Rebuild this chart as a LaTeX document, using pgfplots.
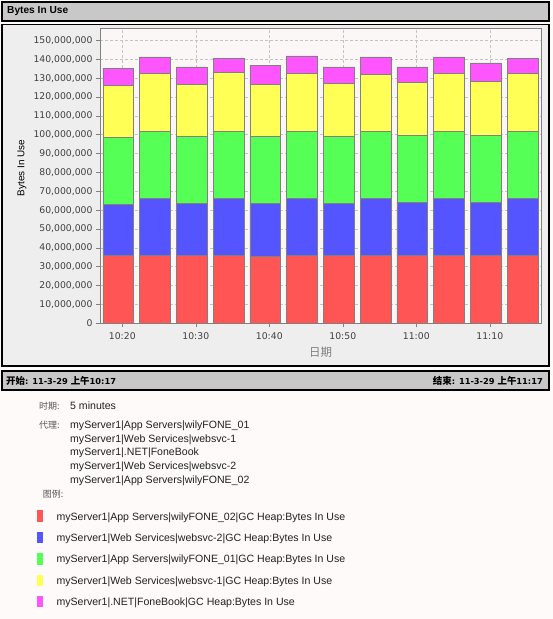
\documentclass[border=0pt]{standalone}
\usepackage{fontspec}
\setmainfont{DejaVu Sans}
\newfontfamily\cjk{Noto Sans CJK SC}
\newfontfamily\lib{Liberation Sans}
\usepackage{pgfplots}
\usepackage{pgfplotstable}
\pgfplotsset{compat=1.18}
\definecolor{pagebg}{HTML}{FEFAFA}
\definecolor{plotbg}{HTML}{FCF7F7}
\definecolor{panelbg}{HTML}{EEEEEE}
\definecolor{barbg}{HTML}{C8C8C8}
\definecolor{sred}{HTML}{FF5555}
\definecolor{sblue}{HTML}{5555FF}
\definecolor{sgreen}{HTML}{55FF55}
\definecolor{syellow}{HTML}{FFFF55}
\definecolor{smag}{HTML}{FF55FF}
\definecolor{edge}{HTML}{808080}
\definecolor{gridc}{HTML}{C4C4C4}
\definecolor{tickc}{HTML}{404040}
\definecolor{txt}{HTML}{202020}
\definecolor{lbl}{HTML}{555555}

\pgfplotstableread{
x  red      blue     green    yellow   mag
0  35900000 27200000 35600000 27600000 9000000
1  35900000 30400000 35700000 30600000 8700000
2  35900000 27500000 35800000 27600000 9200000
3  35900000 30400000 35700000 31200000 7400000
4  35300000 28100000 35800000 27600000 10200000
5  35900000 30400000 35700000 30600000 9200000
6  35900000 27900000 35400000 28100000 8700000
7  35900000 30400000 35700000 30100000 9200000
8  35900000 28300000 35500000 28200000 8100000
9  35900000 30400000 35700000 30600000 8700000
10 35900000 28300000 35500000 28700000 9700000
11 35900000 30400000 35700000 30600000 8000000
}\datatable

\pgfplotsset{sq/.style={legend image code/.code={\path[##1,draw=none] (0bp,-4.45bp) rectangle (6.3bp,6.95bp);}}}

\begin{document}
\begin{tikzpicture}
\fill[pagebg] (0,0) rectangle (553bp,619bp);
% title bar
\draw[line width=1.2bp, fill=barbg] (2bp,598bp) rectangle (549bp,617bp);
\node[anchor=west, inner sep=0pt, text=black, font=\lib\bfseries\fontsize{10.2}{11}\selectfont] at (7bp,607.5bp) {Bytes In Use};
% chart panel
\draw[line width=1.5bp, fill=panelbg] (2bp,253bp) rectangle (549bp,594.5bp);
% bottom bar
\draw[line width=1.2bp, fill=barbg] (2bp,229bp) rectangle (549bp,248bp);
\node[anchor=west, inner sep=0pt, font=\bfseries\fontsize{8.3}{10}\selectfont] at (6bp,238.5bp) {{\cjk\fontsize{9.5}{10}\selectfont 开始}: 11-3-29 {\cjk\fontsize{9.5}{10}\selectfont 上午}10:17};
\node[anchor=east, inner sep=0pt, font=\bfseries\fontsize{8.3}{10}\selectfont] at (543bp,238.5bp) {{\cjk\fontsize{9.5}{10}\selectfont 结束}: 11-3-29 {\cjk\fontsize{9.5}{10}\selectfont 上午}11:17};
% info text
\begin{scope}[every node/.style={anchor=base west, inner sep=0pt, text=txt, font=\lib\fontsize{10.6}{12}\selectfont}]
\node[text=lbl, font=\cjk\fontsize{9}{10}\selectfont] at (39bp,209.4bp) {时期:};
\node at (70bp,209.2bp) {5 minutes};
\node[text=lbl, font=\cjk\fontsize{9}{10}\selectfont] at (39bp,190.4bp) {代理:};
\node at (70bp,190.2bp) {myServer1|App Servers|wilyFONE\_01};
\node at (70bp,176.9bp) {myServer1|Web Services|websvc-1};
\node at (70bp,163.2bp) {myServer1|.NET|FoneBook};
\node at (70bp,149.9bp) {myServer1|Web Services|websvc-2};
\node at (70bp,135.9bp) {myServer1|App Servers|wilyFONE\_02};
\node[text=lbl, font=\cjk\fontsize{9}{10}\selectfont] at (42.7bp,121.9bp) {图例:};
\end{scope}

\begin{axis}[
  at={(100bp,295.7bp)}, anchor=south west,
  scale only axis, width=441bp, height=295.3bp,
  xmin=-0.5, xmax=11.5, ymin=0, ymax=156650000,
  enlarge x limits=false, enlarge y limits=false,
  ybar stacked, bar width=0.84,
  axis background/.style={fill=plotbg},
  axis line style={draw=edge},
  tick align=outside, major tick length=4bp,
  tick style={draw=edge, line width=0.6bp},
  xtick pos=lower, ytick pos=left,
  xtick={0.107,2.107,4.107,6.107,8.107,10.107},
  xticklabels={10:20,10:30,10:40,10:50,11:00,11:10},
  ytick={0,10000000,20000000,30000000,40000000,50000000,60000000,70000000,80000000,90000000,100000000,110000000,120000000,130000000,140000000,150000000},
  yticklabels={0,{10,000,000},{20,000,000},{30,000,000},{40,000,000},{50,000,000},{60,000,000},{70,000,000},{80,000,000},{90,000,000},{100,000,000},{110,000,000},{120,000,000},{130,000,000},{140,000,000},{150,000,000}},
  scaled y ticks=false,
  ticklabel style={font=\fontsize{9.3}{11}\selectfont, text=tickc},
  xticklabel style={yshift=-2bp},
  grid=major, major grid style={draw=gridc, dash pattern=on 3bp off 2bp, line width=0.6bp},
  xlabel={日期}, ylabel={Bytes In Use},
  xlabel style={at={(axis description cs:0.5,-0.0975)}, anchor=center, font=\cjk\fontsize{11.5}{12}\selectfont, text=gray},
  ylabel style={at={(axis description cs:-0.1769,0.526)}, anchor=center, font=\lib\fontsize{10}{11}\selectfont, text=black},
  legend style={at={(-0.1435,-0.633)}, anchor=north west, draw=none, fill=none, inner sep=0pt,
     row sep=9.55bp, column sep=13.3bp,
     nodes={inner sep=0pt, text height=7.6bp, text depth=2.2bp, font=\lib\fontsize{10.6}{12}\selectfont, text=txt}},
  legend cell align=left,
  every axis plot/.append style={draw=edge, line width=0.7bp, sq},
]
\addplot[fill=sred] table[x=x,y=red]{\datatable};
\addlegendentry{myServer1|App Servers|wilyFONE\_02|GC Heap:Bytes In Use}
\addplot[fill=sblue] table[x=x,y=blue]{\datatable};
\addlegendentry{myServer1|Web Services|websvc-2|GC Heap:Bytes In Use}
\addplot[fill=sgreen] table[x=x,y=green]{\datatable};
\addlegendentry{myServer1|App Servers|wilyFONE\_01|GC Heap:Bytes In Use}
\addplot[fill=syellow] table[x=x,y=yellow]{\datatable};
\addlegendentry{myServer1|Web Services|websvc-1|GC Heap:Bytes In Use}
\addplot[fill=smag] table[x=x,y=mag]{\datatable};
\addlegendentry{myServer1|.NET|FoneBook|GC Heap:Bytes In Use}
\end{axis}
\end{tikzpicture}
\end{document}
